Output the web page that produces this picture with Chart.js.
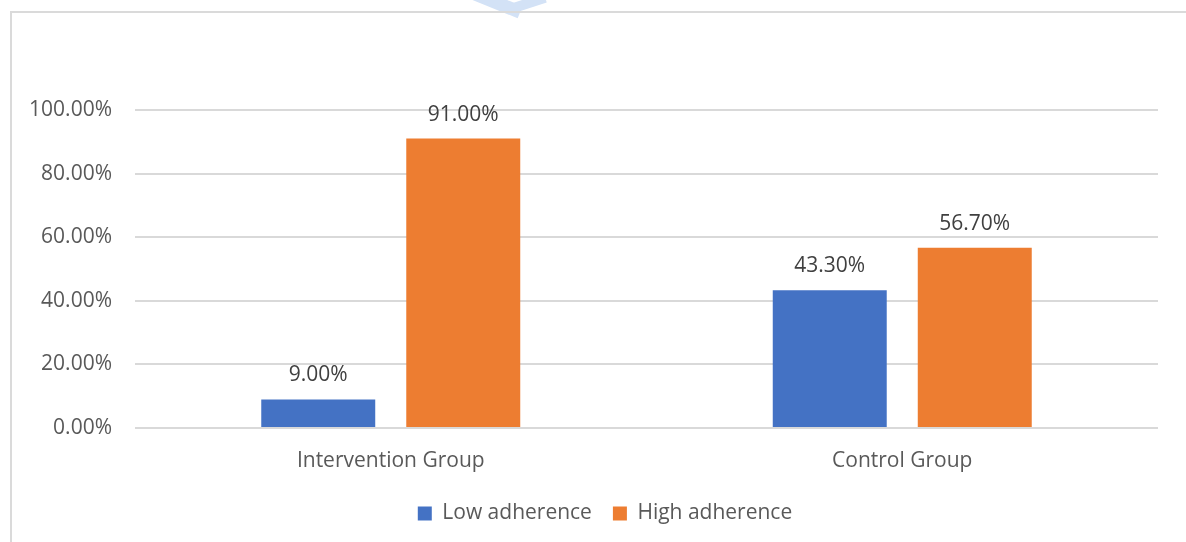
<!DOCTYPE html>
<html>
<head>
<meta charset="utf-8">
<script src="https://cdn.jsdelivr.net/npm/chart.js@4.4.1/dist/chart.umd.min.js"></script>
<style>
  html, body { margin: 0; padding: 0; background: #ffffff; }
  #wrap { position: relative; width: 1186px; height: 542px; overflow: hidden; }
  #frame { position: absolute; left: 10px; top: 11px; width: 1200px; height: 600px;
           border-left: 2px solid #dadada; border-top: 2px solid #dadada; box-sizing: border-box; }
  .mark { position: absolute; background: #d3e2f6; }
  canvas { position: absolute; left: 0; top: 0; }
</style>
</head>
<body>
<div id="wrap">
  <div class="mark" style="left:470px; top:-4px; width:52px; height:13px; transform: rotate(22deg);"></div>
  <div class="mark" style="left:512px; top:-2px; width:34px; height:10px; transform: rotate(-18deg);"></div>
  <div id="frame"></div>
  <canvas id="chart" width="1186" height="542"></canvas>
</div>
<script>
// Adherence share by study group
const groups = ['Intervention Group', 'Control Group'];
const lowAdherence = [9.0, 43.3];
const highAdherence = [91.0, 56.7];
const seriesNames = ['Low adherence', 'High adherence'];
const yTicks = [0, 20, 40, 60, 80, 100];

const FONT = '"Open Sans", sans-serif';
const TEXT = '#595959';
const SIZE = 21;

// Writes each bar's value as a percentage just above it
const valueLabels = {
  id: 'valueLabels',
  afterDatasetsDraw(chart) {
    const ctx = chart.ctx;
    ctx.save();
    ctx.font = SIZE + 'px ' + FONT;
    ctx.fillStyle = '#404040';
    ctx.textAlign = 'center';
    ctx.textBaseline = 'middle';
    chart.data.datasets.forEach((ds, i) => {
      chart.getDatasetMeta(i).data.forEach((bar, j) => {
        ctx.fillText(ds.data[j].toFixed(2) + '%', bar.x, bar.y - 24);
      });
    });
    ctx.restore();
  }
};

// Centres the legend under the whole frame rather than the canvas box
const legendShift = {
  id: 'legendShift',
  afterLayout(chart) {
    const lg = chart.legend;
    if (lg) { lg.left += 22; lg.right += 22; }
  }
};

new Chart(document.getElementById('chart'), {
  type: 'bar',
  data: {
    labels: groups,
    datasets: [
      { label: seriesNames[0], data: lowAdherence, backgroundColor: '#4472C4' },
      { label: seriesNames[1], data: highAdherence, backgroundColor: '#ED7D31' }
    ]
  },
  options: {
    responsive: false,
    animation: false,
    events: [],
    layout: { padding: { left: 8, right: 28, top: 110, bottom: 8 } },
    datasets: { bar: { categoryPercentage: 0.567, barPercentage: 0.786 } },
    scales: {
      x: {
        grid: { display: false, drawTicks: false },
        border: { display: false },
        ticks: { color: TEXT, font: { family: FONT, size: SIZE }, padding: 20 },
        afterFit(scale) { scale.height = 54; }
      },
      y: {
        min: 0, max: 100,
        afterBuildTicks(scale) { scale.ticks = yTicks.map(v => ({ value: v })); },
        grid: { color: '#d9d9d9', lineWidth: 2, drawTicks: false },
        border: { display: false },
        ticks: {
          color: TEXT, font: { family: FONT, size: SIZE }, padding: 23,
          callback: v => v.toFixed(2) + '%'
        },
        afterFit(scale) { scale.width = 127; }
      }
    },
    plugins: {
      legend: {
        position: 'bottom',
        labels: {
          color: TEXT, font: { family: FONT, size: SIZE },
          boxWidth: 14, boxHeight: 14, padding: 21
        }
      },
      tooltip: { enabled: false }
    }
  },
  plugins: [valueLabels, legendShift]
});
</script>
</body>
</html>
